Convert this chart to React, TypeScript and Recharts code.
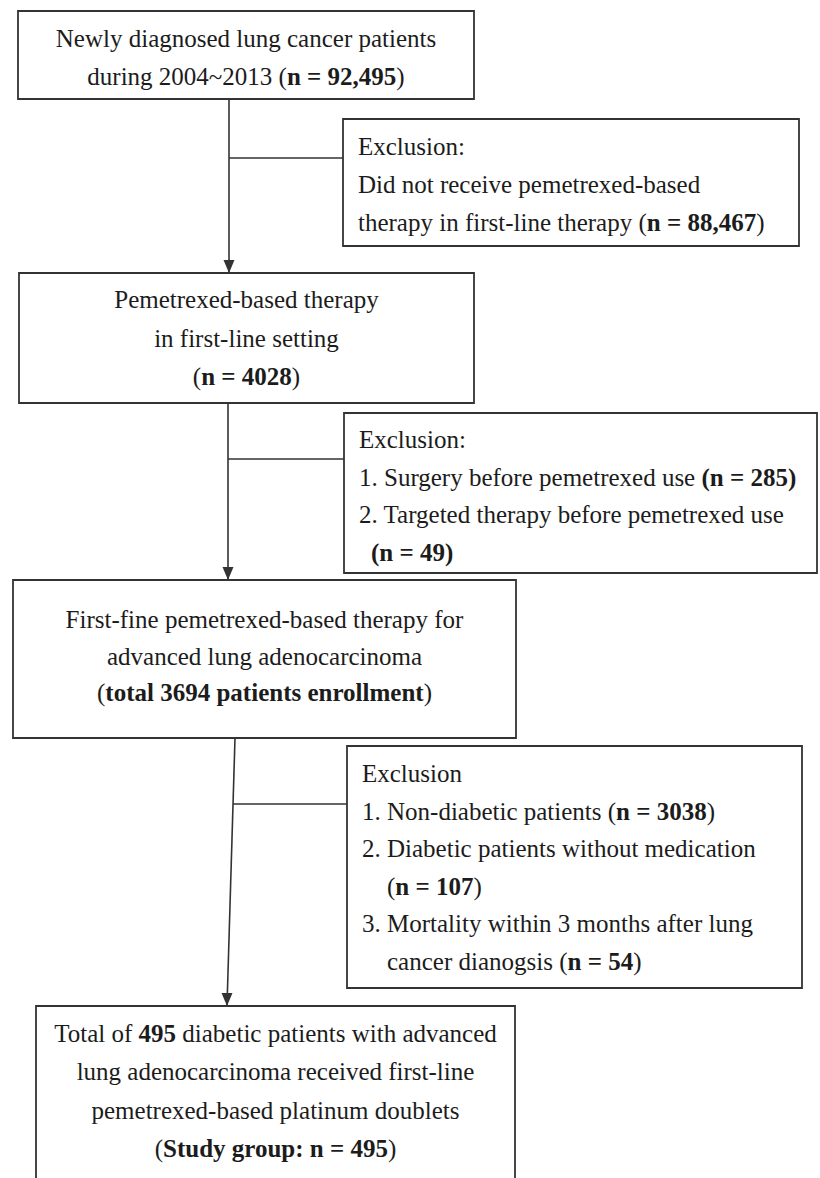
import React from 'react';
import { ComposedChart, XAxis, YAxis, ReferenceArea, ReferenceLine, Scatter } from 'recharts';

type Seg = [string, boolean?];
type Line = Seg[];

const W = 820;
const H = 1178;

if (typeof document !== 'undefined') {
  document.body.style.margin = '0';
  document.body.style.background = '#fff';
}

// patient counts
const stepCounts = [92495, 4028, 3694, 495];
const exclusionCounts = [88467, 285, 49, 3038, 107, 54];

const fmt = (n: number) => (n >= 10000 ? n.toLocaleString('en-US') : String(n));

const stepLines: Line[][] = [
  [
    [['Newly diagnosed lung cancer patients']],
    [['during 2004~2013 ('], [`n = ${fmt(stepCounts[0])}`, true], [')']],
  ],
  [
    [['Pemetrexed-based therapy']],
    [['in first-line setting']],
    [['('], [`n = ${fmt(stepCounts[1])}`, true], [')']],
  ],
  [
    [['First-fine pemetrexed-based therapy for']],
    [['advanced lung adenocarcinoma']],
    [['('], [`total ${stepCounts[2]} patients enrollment`, true], [')']],
  ],
  [
    [['Total of '], [String(stepCounts[3]), true], [' diabetic patients with advanced']],
    [['lung adenocarcinoma received first-line']],
    [['pemetrexed-based platinum doublets']],
    [['('], [`Study group: n = ${stepCounts[3]}`, true], [')']],
  ],
];

const exclusionLines: Line[][] = [
  [
    [['Exclusion:']],
    [['Did not receive pemetrexed-based']],
    [['therapy in first-line therapy ('], [`n = ${fmt(exclusionCounts[0])}`, true], [')']],
  ],
  [
    [['Exclusion:']],
    [['1. Surgery before pemetrexed use '], [`(n = ${exclusionCounts[1]})`, true]],
    [['2. Targeted therapy before pemetrexed use']],
    [[`(n = ${exclusionCounts[2]})`, true]],
  ],
  [
    [['Exclusion']],
    [['1. Non-diabetic patients ('], [`n = ${exclusionCounts[3]}`, true], [')']],
    [['2. Diabetic patients without medication']],
    [['('], [`n = ${exclusionCounts[4]}`, true], [')']],
    [['3. Mortality within 3 months after lung']],
    [['cancer dianogsis ('], [`n = ${exclusionCounts[5]}`, true], [')']],
  ],
];

// layout, in pixels of the picture (the axes map 1:1)
const stepBoxes = [
  { x1: 18, x2: 474, y1: 11, y2: 99, first: 47, lead: 38 },
  { x1: 19, x2: 474, y1: 273, y2: 403, first: 308, lead: 38.5 },
  { x1: 13, x2: 516, y1: 580, y2: 738, first: 628, lead: 36.5 },
  { x1: 36, x2: 515, y1: 1006, y2: 1220, first: 1042, lead: 38.3 },
];
const exclusionBoxes = [
  { x1: 343, x2: 799, y1: 119, y2: 246, first: 155, lead: 38, indent: [0, 0, 0] },
  { x1: 344, x2: 817, y1: 413, y2: 573, first: 448, lead: 37.7, indent: [0, 0, 0, 12] },
  { x1: 347, x2: 802, y1: 746, y2: 988, first: 782, lead: 37.6, indent: [0, 0, 0, 25, 0, 25] },
];
const trunks = [
  [{ x: 229, y: 99 }, { x: 229, y: 273 }],
  [{ x: 228, y: 403 }, { x: 228, y: 580 }],
  [{ x: 235, y: 738 }, { x: 227, y: 1006 }],
];
const branches = [
  [{ x: 229, y: 158 }, { x: 343, y: 158 }],
  [{ x: 228, y: 459 }, { x: 344, y: 459 }],
  [{ x: 233, y: 804 }, { x: 347, y: 804 }],
];

const STROKE = '#333';
const INK = '#1c1c1c';
const FONT = '"Liberation Serif", "Times New Roman", serif';

const textItems = [
  ...stepLines.flatMap((lines, b) =>
    lines.map((parts, i) => ({
      x: (stepBoxes[b].x1 + stepBoxes[b].x2) / 2,
      y: stepBoxes[b].first + i * stepBoxes[b].lead,
      parts,
      anchor: 'middle',
    }))
  ),
  ...exclusionLines.flatMap((lines, b) =>
    lines.map((parts, i) => ({
      x: exclusionBoxes[b].x1 + 15 + (exclusionBoxes[b].indent[i] || 0),
      y: exclusionBoxes[b].first + i * exclusionBoxes[b].lead,
      parts,
      anchor: 'start',
    }))
  ),
];

const arrowTips = trunks.map((t) => t[1]);

const TextShape = (p: any) => (
  <text
    x={p.cx}
    y={p.cy}
    textAnchor={p.payload.anchor}
    fontFamily={FONT}
    fontSize={25}
    fill={INK}
    style={{ whiteSpace: 'pre' }}
  >
    {p.payload.parts.map((s: Seg, i: number) => (
      <tspan key={i} fontWeight={s[1] ? 'bold' : 'normal'}>
        {s[0]}
      </tspan>
    ))}
  </text>
);

const ArrowShape = (p: any) => (
  <path
    d={`M${p.cx - 5.5},${p.cy - 13} L${p.cx + 5.5},${p.cy - 13} L${p.cx},${p.cy} Z`}
    fill={STROKE}
  />
);

export default function App() {
  return (
    <div style={{ width: W, height: H, background: '#fff' }}>
      <ComposedChart width={W} height={H} margin={{ top: 0, right: 0, bottom: 0, left: 0 }}>
        <XAxis type="number" dataKey="x" domain={[0, W]} hide allowDataOverflow />
        <YAxis type="number" dataKey="y" domain={[0, H]} reversed hide allowDataOverflow />
        {[...stepBoxes, ...exclusionBoxes].map((b, i) => (
          <ReferenceArea
            key={`box-${i}`}
            x1={b.x1}
            x2={b.x2}
            y1={b.y1}
            y2={b.y2}
            fill="#fff"
            fillOpacity={0}
            stroke={STROKE}
            strokeWidth={1.8}
            ifOverflow="hidden"
          />
        ))}
        {[...trunks, ...branches].map((seg, i) => (
          <ReferenceLine
            key={`seg-${i}`}
            segment={seg}
            stroke={STROKE}
            strokeWidth={1.6}
            ifOverflow="visible"
          />
        ))}
        <Scatter data={arrowTips} shape={ArrowShape} isAnimationActive={false} />
        <Scatter data={textItems} shape={TextShape} isAnimationActive={false} />
      </ComposedChart>
    </div>
  );
}
